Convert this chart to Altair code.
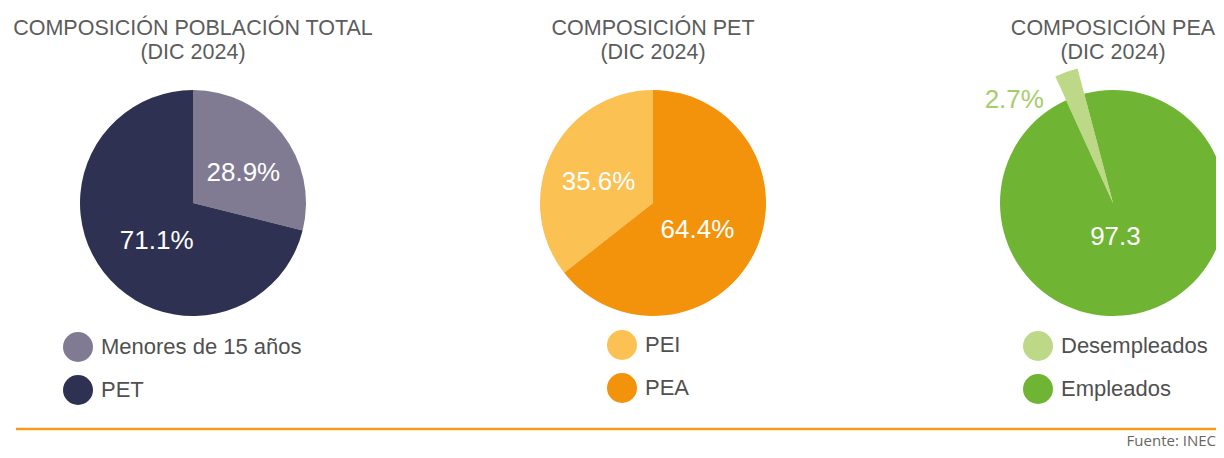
import math
import altair as alt
import pandas as pd

# ---- data ----
titles = ["COMPOSICIÓN POBLACIÓN TOTAL", "COMPOSICIÓN PET", "COMPOSICIÓN PEA"]
subtitle = "(DIC 2024)"

cats1 = ["Menores de 15 años", "PET"]
vals1 = [28.9, 71.1]
labels1 = ["28.9%", "71.1%"]

cats2 = ["PEI", "PEA"]
vals2 = [35.6, 64.4]
labels2 = ["35.6%", "64.4%"]

cats3 = ["Desempleados", "Empleados"]
vals3 = [2.7, 97.3]
labels3 = ["2.7%", "97.3"]

colors1 = ["#807b93", "#2e3152"]
colors2 = ["#fbc153", "#f3930c"]
colors3 = ["#bdd887", "#6fb432"]

source = "Fuente: INEC"

FONT = "Liberation Sans"
W, H = 1208, 442
CY = 195
R = 113
TWO_PI = 2 * math.pi


def legend(lx, ly):
    return alt.Legend(
        orient="none", legendX=lx, legendY=ly, title=None,
        symbolType="circle", symbolSize=900, symbolStrokeWidth=0,
        symbolOpacity=1, labelFontSize=22, labelFont=FONT,
        labelColor="#505050", labelOffset=8, rowPadding=13,
        labelLimit=400, padding=0,
    )


def pie(cats, vals, labels, colors, cx, lx, ly, title, start=0.0,
        lab_r=55, lab_dx=0, lab_dy=0):
    df = pd.DataFrame({"cat": cats, "v": vals, "lab": labels})
    base = alt.Chart(df).encode(
        theta=alt.Theta("v:Q", stack=True,
                        scale=alt.Scale(range=[start, start + TWO_PI])),
        order=alt.Order("cat:N", sort="ascending"),
        x=alt.value(cx), y=alt.value(CY),
    )
    arc = base.mark_arc(outerRadius=R).encode(
        color=alt.Color("cat:N",
                        scale=alt.Scale(domain=cats, range=colors),
                        legend=legend(lx, ly))
    )
    txt = base.mark_text(radius=lab_r, dx=lab_dx, dy=lab_dy, font=FONT,
                         fontSize=26, color="white", baseline="middle",
                         align="center").encode(text="lab:N")
    tdf = pd.DataFrame({"t": [title], "s": [subtitle]})
    t1 = alt.Chart(tdf).mark_text(font=FONT, fontSize=21.5, color="#5c5c5c",
                                  align="center").encode(
        text="t:N", x=alt.value(cx), y=alt.value(21))
    t2 = alt.Chart(tdf).mark_text(font=FONT, fontSize=21.5, color="#5c5c5c",
                                  align="center").encode(
        text="s:N", x=alt.value(cx), y=alt.value(45))
    return base, arc, txt, t1, t2


# pie 1
b1, arc1, txt1, t11, t12 = pie(cats1, vals1, labels1, colors1, 185, 55, 324,
                               titles[0], lab_r=55, lab_dx=7, lab_dy=4)
pie1 = alt.layer(arc1, txt1, t11, t12)

# pie 2
b2, arc2, txt2, t21, t22 = pie(cats2, vals2, labels2, colors2, 645, 599, 322,
                               titles[1], lab_r=55, lab_dx=-5, lab_dy=3)
pie2 = alt.layer(arc2, txt2, t21, t22)

# pie 3 (exploded "Desempleados" wedge)
start3 = -24.5 * math.pi / 180
b3, arc3, txt3, t31, t32 = pie(cats3, vals3, labels3, colors3, 1105, 1015, 323,
                               titles[2], start=start3)
wedge = b3.mark_arc(outerRadius=139).encode(
    color=alt.Color("cat:N", scale=alt.Scale(domain=cats3, range=colors3),
                    legend=legend(1015, 323)),
    opacity=alt.condition(alt.datum.cat == cats3[0], alt.value(1), alt.value(0)),
)
lab_in = b3.mark_text(radius=34, dx=-9, dy=2, font=FONT, fontSize=26,
                      color="white", baseline="middle", align="center").encode(
    text="lab:N",
    opacity=alt.condition(alt.datum.cat == cats3[1], alt.value(1), alt.value(0)),
)
lab_out = b3.mark_text(radius=139, dx=-52, dy=28, font=FONT, fontSize=26,
                       color="#a6cd6c", baseline="middle", align="center").encode(
    text="lab:N",
    opacity=alt.condition(alt.datum.cat == cats3[0], alt.value(1), alt.value(0)),
)
pie3 = alt.layer(arc3, wedge, lab_in, lab_out, t31, t32)

# footer
foot_df = pd.DataFrame({"s": [source]})
rule = alt.Chart(foot_df).mark_rule(color="#f39c1a", strokeWidth=2.5).encode(
    x=alt.value(8), x2=alt.value(W), y=alt.value(421))
foot = alt.Chart(foot_df).mark_text(font="Open Sans", fontSize=15,
                                    color="#666666", align="right").encode(
    text="s:N", x=alt.value(W), y=alt.value(433))

chart = alt.layer(pie1, pie2, pie3, rule, foot).resolve_scale(
    theta="independent", color="independent"
).properties(
    width=W, height=H, padding=0,
    autosize=alt.AutoSizeParams(type="none"),
).configure_view(strokeWidth=0)

chart.save("out.html", embed_options={"renderer": "svg", "actions": False})
